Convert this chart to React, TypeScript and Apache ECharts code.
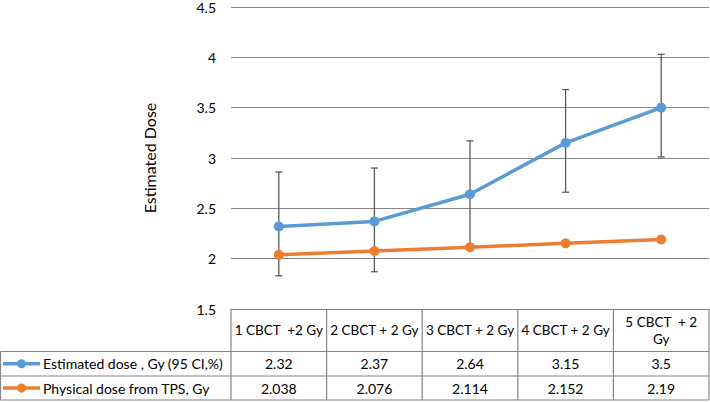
import React, { useEffect, useRef } from "react";
import * as echarts from "echarts";

const categories = ["1 CBCT  +2 Gy", "2 CBCT + 2 Gy", "3 CBCT + 2 Gy", "4 CBCT + 2 Gy", "5 CBCT  + 2 Gy"];
const headerLines = [["1 CBCT  +2 Gy"], ["2 CBCT + 2 Gy"], ["3 CBCT + 2 Gy"], ["4 CBCT + 2 Gy"], ["5 CBCT  + 2", "Gy"]];
const estimatedName = "Estimated dose , Gy (95 CI,%)";
const physicalName = "Physical dose from TPS, Gy";
const estimated = [2.32, 2.37, 2.64, 3.15, 3.5];
const estimatedLabels = ["2.32", "2.37", "2.64", "3.15", "3.5"];
const physical = [2.038, 2.076, 2.114, 2.152, 2.19];
const physicalLabels = ["2.038", "2.076", "2.114", "2.152", "2.19"];
const errLow = [1.83, 1.87, 2.11, 2.66, 3.01];
const errHigh = [2.86, 2.9, 3.17, 3.68, 4.03];

const BLUE = "#5B9BD5";
const ORANGE = "#ED7D31";
const GRID = "#868686";
const FONT = "Lato";
const TXT = "#000";

export default function App() {
  const ref = useRef<HTMLDivElement>(null);
  useEffect(() => {
    if (!ref.current) return;
    const chart = echarts.init(ref.current, undefined, { renderer: "svg" });
    const gridLeft = 231;
    const gridRight = 709;
    const gridTop = 5;
    const gridBottom = 309;
    const option: any = {
      animation: false,
      grid: { left: gridLeft, right: 710 - gridRight, top: gridTop, bottom: 402 - gridBottom },
      xAxis: {
        type: "category",
        data: categories,
        boundaryGap: true,
        axisLine: { show: true, lineStyle: { color: GRID, width: 1.2 } },
        axisTick: { show: false },
        axisLabel: { show: false },
      },
      yAxis: {
        type: "value",
        min: 1.5,
        max: 4.5,
        interval: 0.5,
        name: "Estimated Dose",
        nameLocation: "middle",
        nameGap: 74,
        nameTextStyle: { fontFamily: FONT, fontSize: 16, color: TXT },
        axisLine: { show: false },
        axisTick: { show: false },
        axisLabel: { fontFamily: FONT, fontSize: 14, color: TXT, margin: 15 },
        splitLine: { lineStyle: { color: GRID, width: 1.2 } },
      },
      series: [
        {
          type: "custom",
          name: "err",
          z: 1,
          data: errLow.map((lo, i) => [i, lo, errHigh[i]]),
          renderItem: (params: any, api: any) => {
            const x = api.value(0);
            const lo = api.coord([x, api.value(1)]);
            const hi = api.coord([x, api.value(2)]);
            const hw = 3.5;
            const style = { stroke: "#5a5a5a", lineWidth: 1.3 };
            return {
              type: "group",
              children: [
                { type: "line", shape: { x1: hi[0], y1: hi[1], x2: lo[0], y2: lo[1] }, style },
                { type: "line", shape: { x1: hi[0] - hw, y1: hi[1], x2: hi[0] + hw, y2: hi[1] }, style },
                { type: "line", shape: { x1: lo[0] - hw, y1: lo[1], x2: lo[0] + hw, y2: lo[1] }, style },
              ],
            };
          },
        },
        {
          type: "line",
          name: physicalName,
          z: 3,
          data: physical,
          symbol: "circle",
          symbolSize: 10,
          lineStyle: { color: ORANGE, width: 3.5 },
          itemStyle: { color: ORANGE },
        },
        {
          type: "line",
          name: estimatedName,
          z: 4,
          data: estimated,
          symbol: "circle",
          symbolSize: 10,
          lineStyle: { color: BLUE, width: 3.5 },
          itemStyle: { color: BLUE },
        },
      ],
    };
    chart.setOption(option);

    // Table below the chart
    const yTop = gridBottom;
    const yH = 351.5;
    const yR1 = 376;
    const yBot = 400;
    const n = categories.length;
    const colW = (gridRight - gridLeft) / n;
    const bounds = Array.from({ length: n + 1 }, (_, i) => gridLeft + i * colW);
    const centers = categories.map((_, i) => chart.convertToPixel({ xAxisIndex: 0 }, i) as number);
    const lineStyle = { stroke: GRID, lineWidth: 1.2 };
    const g: any[] = [];
    const hline = (x1: number, x2: number, y: number) =>
      g.push({ type: "line", shape: { x1, y1: y, x2, y2: y }, style: lineStyle, silent: true });
    const vline = (x: number, y1: number, y2: number) =>
      g.push({ type: "line", shape: { x1: x, y1, x2: x, y2 }, style: lineStyle, silent: true });
    hline(0.5, gridRight, yH);
    hline(0.5, gridRight, yR1);
    hline(0.5, gridRight, yBot);
    vline(0.5, yH, yBot);
    bounds.forEach((b) => vline(b, yTop, yBot));
    const txt = (text: string, x: number, y: number, align: string = "center", size: number = 14) =>
      g.push({
        type: "text",
        x,
        y,
        style: { text, fontFamily: FONT, fontSize: size, fill: TXT, align, verticalAlign: "middle" },
        silent: true,
      });
    headerLines.forEach((lines, i) => {
      const mid = (yTop + yH) / 2;
      if (lines.length === 1) txt(lines[0], centers[i], mid, "center", 13.5);
      else lines.forEach((l, k) => txt(l, centers[i], mid + (k - (lines.length - 1) / 2) * 17, "center", 13.5));
    });
    const r1 = (yH + yR1) / 2;
    const r2 = (yR1 + yBot) / 2;
    estimatedLabels.forEach((t, i) => txt(t, centers[i], r1));
    physicalLabels.forEach((t, i) => txt(t, centers[i], r2));
    const legendKey = (y: number, color: string) => {
      g.push({ type: "line", shape: { x1: 3, y1: y, x2: 40, y2: y }, style: { stroke: color, lineWidth: 3.5 }, silent: true });
      g.push({ type: "circle", shape: { cx: 21.5, cy: y, r: 4.5 }, style: { fill: color }, silent: true });
    };
    legendKey(r1, BLUE);
    legendKey(r2, ORANGE);
    txt(estimatedName, 43, r1, "left");
    txt(physicalName, 43, r2, "left");
    chart.setOption({ graphic: g });

    return () => chart.dispose();
  }, []);
  return (
    <div
      ref={ref}
      style={{ position: "fixed", left: 0, top: 0, width: 710, height: 402, background: "#fff" }}
    />
  );
}
